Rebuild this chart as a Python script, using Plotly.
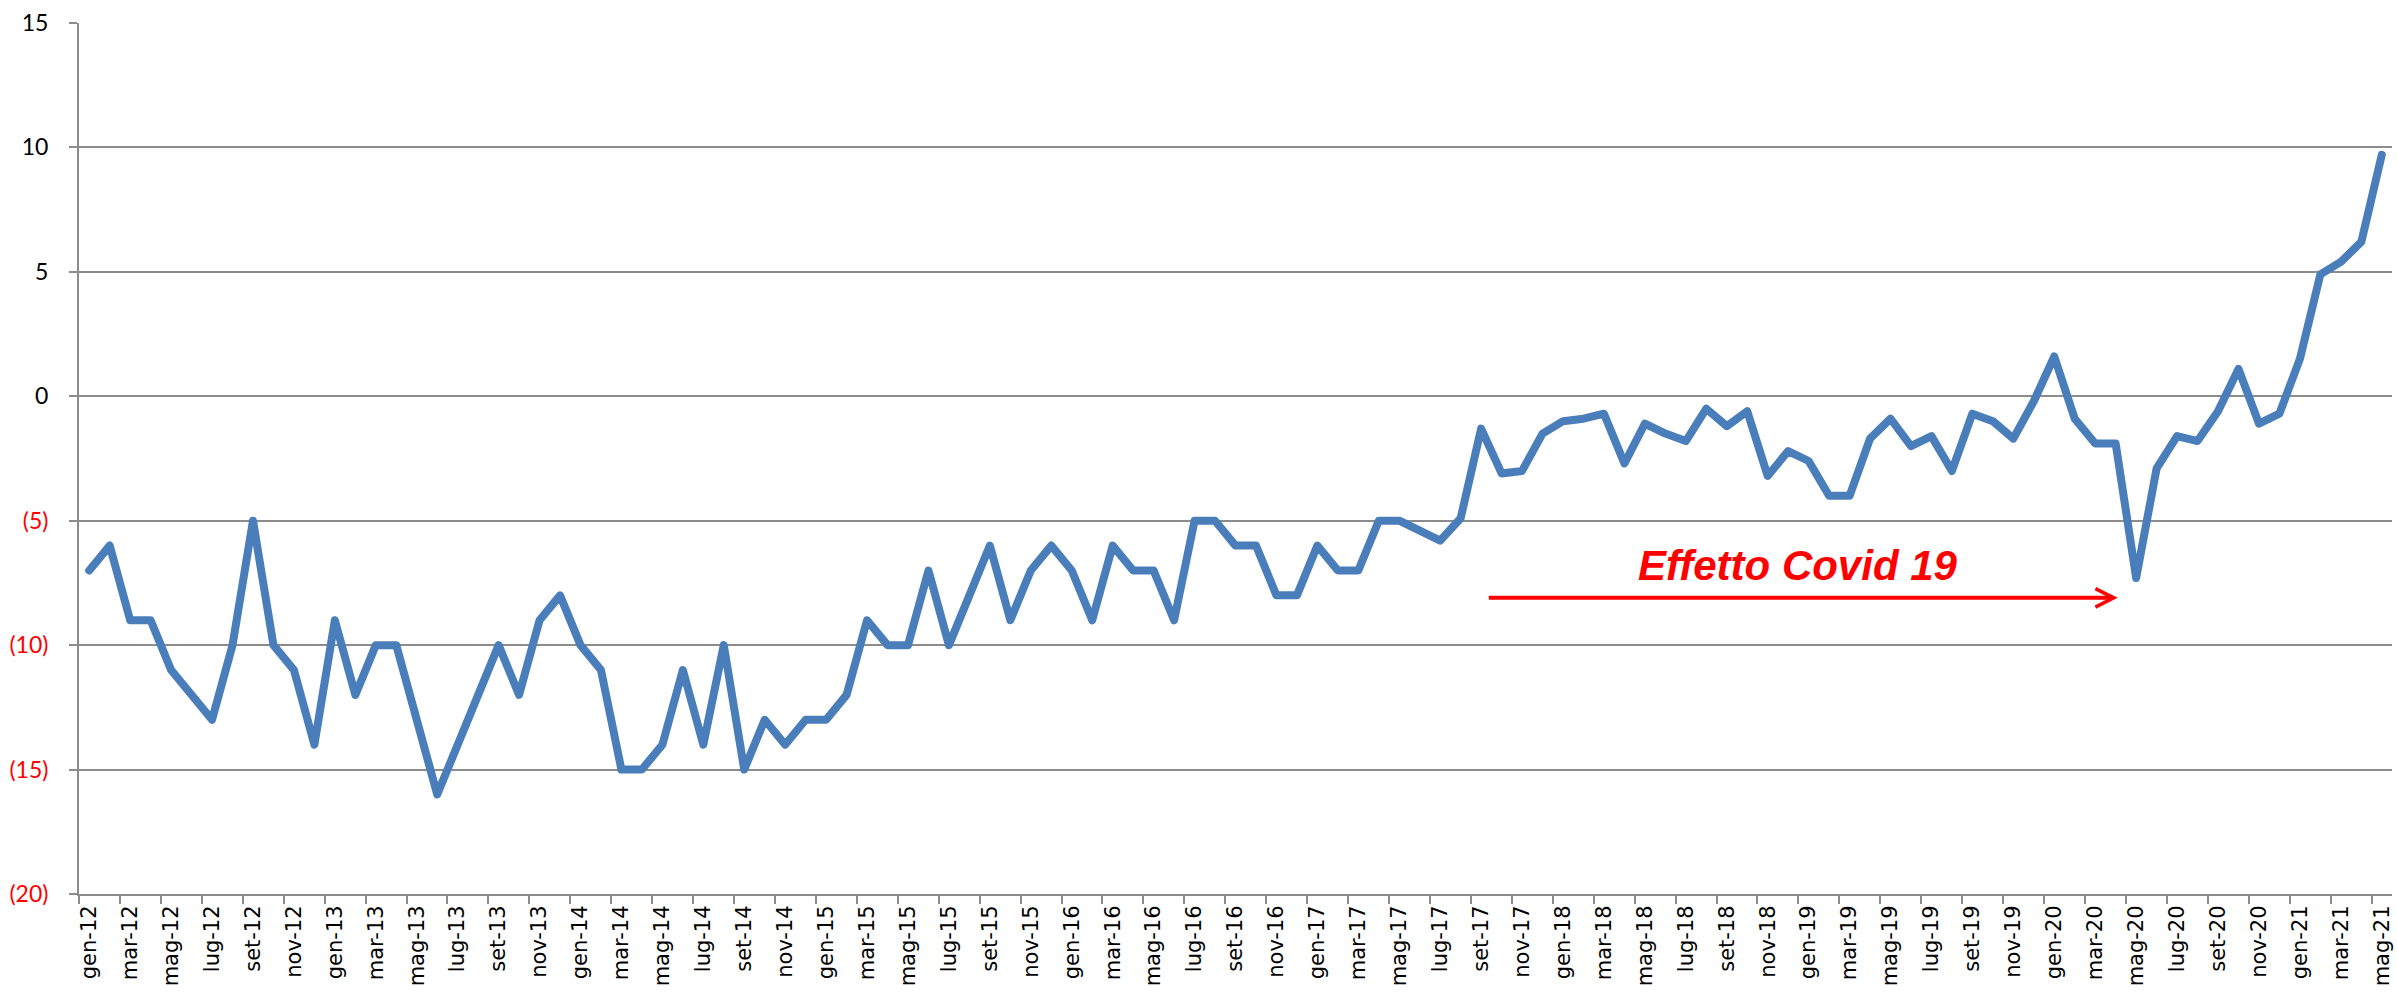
import plotly.graph_objects as go

# ---- data -------------------------------------------------------------
month_abbr = ["gen", "feb", "mar", "apr", "mag", "giu",
              "lug", "ago", "set", "ott", "nov", "dic"]
years = ["12", "13", "14", "15", "16", "17", "18", "19", "20", "21"]
months = [f"{m}-{y}" for y in years for m in month_abbr][:113]  # gen-12 .. mag-21

values_2012 = [-7, -6, -9, -9, -11, -12, -13, -10, -5, -10, -11, -14]
values_2013 = [-9, -12, -10, -10, -13, -16, -14, -12, -10, -12, -9, -8]
values_2014 = [-10, -11, -15, -15, -14, -11, -14, -10, -15, -13, -14, -13]
values_2015 = [-13, -12, -9, -10, -10, -7, -10, -8, -6, -9, -7, -6]
values_2016 = [-7, -9, -6, -7, -7, -9, -5, -5, -6, -6, -8, -8]
values_2017 = [-6, -7, -7, -5, -5, -5.4, -5.8, -4.9, -1.3, -3.1, -3.0, -1.5]
values_2018 = [-1.0, -0.9, -0.7, -2.7, -1.1, -1.5, -1.8, -0.5, -1.2, -0.6, -3.2, -2.2]
values_2019 = [-2.6, -4.0, -4.0, -1.7, -0.9, -2.0, -1.6, -3.0, -0.7, -1.0, -1.7, -0.2]
values_2020 = [1.6, -0.9, -1.9, -1.9, -7.3, -2.9, -1.6, -1.8, -0.6, 1.1, -1.1, -0.7]
values_2021 = [1.5, 4.9, 5.4, 6.2, 9.7]
values = (values_2012 + values_2013 + values_2014 + values_2015 + values_2016
          + values_2017 + values_2018 + values_2019 + values_2020 + values_2021)

y_tickvals = [15, 10, 5, 0, -5, -10, -15, -20]
y_ticktext = ["15", "10", "5", "0",
              '<span style="color:#FF0000">(5)</span>',
              '<span style="color:#FF0000">(10)</span>',
              '<span style="color:#FF0000">(15)</span>',
              '<span style="color:#FF0000">(20)</span>']

note_text = "Effetto Covid 19"
note_pos = (83.5, -6.8)
arrow_from = (68.3, -8.1)
arrow_to = (99.1, -8.1)

# ---- figure -----------------------------------------------------------
GRID = "#8C8C8C"
fig = go.Figure()
fig.add_trace(go.Scatter(
    x=months, y=values, mode="lines",
    line=dict(color="#4A7EBB", width=8),
    hoverinfo="skip", showlegend=False,
))

fig.add_annotation(
    x=arrow_to[0], y=arrow_to[1], ax=arrow_from[0], ay=arrow_from[1],
    xref="x", yref="y", axref="x", ayref="y",
    text="", showarrow=True, arrowhead=5, arrowsize=0.9,
    arrowwidth=4, arrowcolor="#FF0000", standoff=0, startstandoff=0,
)
fig.add_annotation(
    x=note_pos[0], y=note_pos[1], xref="x", yref="y",
    text=note_text, showarrow=False, xanchor="center", yanchor="middle",
    font=dict(family="Liberation Sans, Arial", size=42, color="#FF0000",
              weight="bold", style="italic"),
)

fig.update_layout(
    width=2397, height=993,
    margin=dict(l=79, r=5, t=23, b=99, pad=0),
    paper_bgcolor="white", plot_bgcolor="white",
    showlegend=False,
    xaxis=dict(
        type="category", tickmode="linear", tick0=0, dtick=2,
        tickson="boundaries", range=[-0.5, 112.5],
        showgrid=False, showline=True, linecolor=GRID, linewidth=2,
        ticks="outside", ticklen=8, tickwidth=2, tickcolor=GRID,
        tickangle=-90, automargin=False,
        zeroline=False,
    ),
    yaxis=dict(
        range=[-20, 15], tickmode="array", tickvals=y_tickvals, ticktext=y_ticktext,
        showgrid=True, gridcolor=GRID, gridwidth=2,
        showline=True, linecolor=GRID, linewidth=2,
        ticks="outside", ticklen=8, tickwidth=2, tickcolor=GRID,
        zeroline=False, automargin=False, ticklabelstandoff=16,
        tickfont=dict(family="Lato", size=23, color="black"),
    ),
)
fig.update_xaxes(tickfont_family="DejaVu Sans", tickfont_size=21, tickfont_color="black",
                 ticklabelstandoff=1)

post = """
var s = document.createElement('style');
s.innerHTML = 'html,body{margin:0;padding:0;overflow:hidden;} .js-line{stroke-linejoin:round !important;stroke-linecap:round !important;}';
document.head.appendChild(s);
"""
fig.write_html("out.html", post_script=post, config={"displayModeBar": False})
